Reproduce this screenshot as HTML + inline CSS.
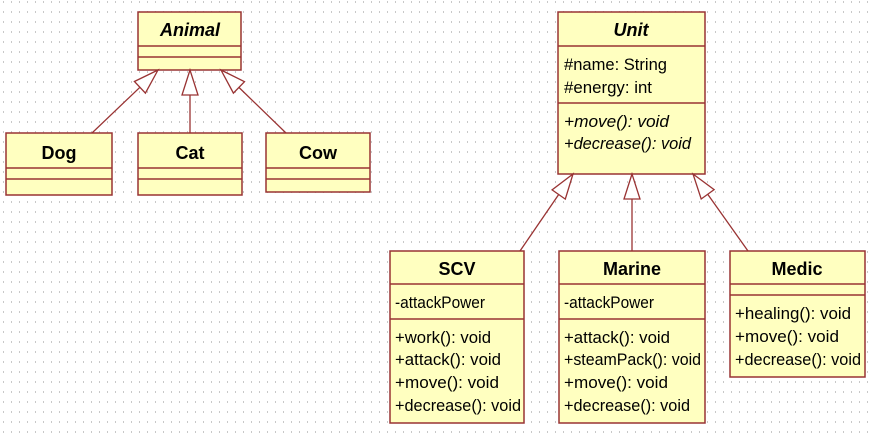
<!DOCTYPE html>
<html><head><meta charset="utf-8"><style>
html,body{margin:0;padding:0;background:#fff;}
svg{display:block;}
text{font-family:"Liberation Sans",sans-serif;font-size:16.3px;fill:#000;}
.b{font-weight:bold;font-size:18px;}
.i{font-style:italic;}
</style></head><body>
<svg width="875" height="440" xmlns="http://www.w3.org/2000/svg">
<defs><pattern id="g" width="8" height="10" patternUnits="userSpaceOnUse"><rect x="3" y="1" width="1" height="2" fill="#c8c8c8"/></pattern></defs>
<rect width="875" height="440" fill="url(#g)"/>
<g fill="#ffffc0" stroke="#993333" stroke-width="1.5">
<rect x="138" y="12" width="103" height="58"/><line x1="138" y1="46" x2="241" y2="46"/><line x1="138" y1="57" x2="241" y2="57"/>
<rect x="6" y="133" width="106" height="62"/><line x1="6" y1="168" x2="112" y2="168"/><line x1="6" y1="179" x2="112" y2="179"/>
<rect x="138" y="133" width="104" height="62"/><line x1="138" y1="168" x2="242" y2="168"/><line x1="138" y1="179" x2="242" y2="179"/>
<rect x="266" y="133" width="104" height="59"/><line x1="266" y1="168" x2="370" y2="168"/><line x1="266" y1="179" x2="370" y2="179"/>
<rect x="558" y="12" width="147" height="162"/><line x1="558" y1="46" x2="705" y2="46"/><line x1="558" y1="103" x2="705" y2="103"/>
<rect x="390" y="251" width="134" height="172"/><line x1="390" y1="284" x2="524" y2="284"/><line x1="390" y1="319" x2="524" y2="319"/>
<rect x="559" y="251" width="146" height="172"/><line x1="559" y1="284" x2="705" y2="284"/><line x1="559" y1="319" x2="705" y2="319"/>
<rect x="730" y="251" width="135" height="126"/><line x1="730" y1="284" x2="865" y2="284"/><line x1="730" y1="295" x2="865" y2="295"/>
</g>
<g stroke="#993333" stroke-width="1.3" fill="#fff">
<line x1="92" y1="133" x2="139.9" y2="87.3"/><polygon points="158,70 145.4,93.1 134.4,81.5"/>
<line x1="190" y1="133" x2="190" y2="95"/><polygon points="190,70 182,95 198,95"/>
<line x1="286" y1="133" x2="238.9" y2="87.4"/><polygon points="221,70 244.5,81.7 233.4,93.1"/>
<line x1="520" y1="251" x2="558.7" y2="194.5"/><polygon points="573,174 565.3,199.1 552.1,189.9"/>
<line x1="632" y1="251" x2="632" y2="199"/><polygon points="632,174 624,199 640,199"/>
<line x1="748" y1="251" x2="707.7" y2="194.3"/><polygon points="693,174 714.1,189.6 701.2,199"/>
</g>
<text class="b i" x="190" y="36" text-anchor="middle">Animal</text>
<text class="b" x="59" y="159" text-anchor="middle">Dog</text>
<text class="b" x="190" y="159" text-anchor="middle">Cat</text>
<text class="b" x="318" y="159" text-anchor="middle">Cow</text>
<text class="b i" x="631" y="36" text-anchor="middle">Unit</text>
<text x="564" y="70" textLength="103" lengthAdjust="spacingAndGlyphs">#name: String</text>
<text x="564" y="93" textLength="88" lengthAdjust="spacingAndGlyphs">#energy: int</text>
<text class="i" x="564" y="127" textLength="105" lengthAdjust="spacingAndGlyphs">+move(): void</text>
<text class="i" x="564" y="149" textLength="127" lengthAdjust="spacingAndGlyphs">+decrease(): void</text>
<text class="b" x="457" y="275" text-anchor="middle">SCV</text>
<text x="395" y="308" textLength="90" lengthAdjust="spacingAndGlyphs">-attackPower</text>
<text x="395" y="343" textLength="96" lengthAdjust="spacingAndGlyphs">+work(): void</text>
<text x="395" y="365" textLength="106" lengthAdjust="spacingAndGlyphs">+attack(): void</text>
<text x="395" y="388" textLength="104" lengthAdjust="spacingAndGlyphs">+move(): void</text>
<text x="395" y="411" textLength="126" lengthAdjust="spacingAndGlyphs">+decrease(): void</text>
<text class="b" x="632" y="275" text-anchor="middle">Marine</text>
<text x="564" y="308" textLength="90" lengthAdjust="spacingAndGlyphs">-attackPower</text>
<text x="564" y="343" textLength="106" lengthAdjust="spacingAndGlyphs">+attack(): void</text>
<text x="564" y="365" textLength="137" lengthAdjust="spacingAndGlyphs">+steamPack(): void</text>
<text x="564" y="388" textLength="104" lengthAdjust="spacingAndGlyphs">+move(): void</text>
<text x="564" y="411" textLength="126" lengthAdjust="spacingAndGlyphs">+decrease(): void</text>
<text class="b" x="797" y="275" text-anchor="middle">Medic</text>
<text x="735" y="319" textLength="116" lengthAdjust="spacingAndGlyphs">+healing(): void</text>
<text x="735" y="342" textLength="104" lengthAdjust="spacingAndGlyphs">+move(): void</text>
<text x="735" y="365" textLength="126" lengthAdjust="spacingAndGlyphs">+decrease(): void</text>
</svg>
</body></html>
